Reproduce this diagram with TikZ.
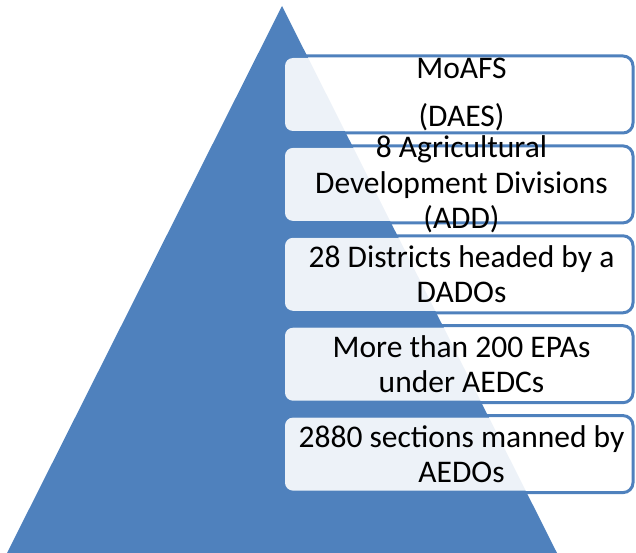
\documentclass[tikz,border=0pt]{standalone}
\usepackage{fontspec}
\setmainfont{Carlito}
\usepackage{xcolor}
\usepackage{tikz}
\usetikzlibrary{positioning}
\definecolor{piramide}{HTML}{4F81BD}

\begin{document}
\begin{tikzpicture}[
  x=1pt, y=-1pt,
  every node/.style={font=\fontsize{31.5}{35.5}\selectfont},
  nivel/.style={fill=white, fill opacity=0.9, rounded corners=8pt, minimum width=353pt, minimum height=73pt, inner sep=0pt},
  marco/.style={draw=piramide, line width=3pt, rounded corners=10pt, minimum width=352pt, minimum height=77pt, inner sep=0pt, xshift=-4.5pt},
  texto/.style={align=center, inner sep=0pt},
  node distance=16.5pt
]
\useasboundingbox (0,0) rectangle (636,553);

% piramide de fondo
\fill[piramide] (282,6) -- (557,553) -- (7,553) -- cycle;

% cajas de cada nivel
\node[nivel] (n1) at (461.5,94.5) {};
\node[nivel, below=of n1] (n2) {};
\node[nivel, below=of n2] (n3) {};
\node[nivel, below=of n3] (n4) {};
\node[nivel, below=of n4] (n5) {};

\node[marco] (m1) at (n1) {};
\node[marco] (m2) at (n2) {};
\node[marco] (m3) at (n3) {};
\node[marco] (m4) at (n4) {};
\node[marco] (m5) at (n5) {};

\node[texto] (t1) at (n1) {MoAFS\\[12.5pt](DAES)};
\node[texto] (t2) at (n2) {8 Agricultural\\Development Divisions\\(ADD)};
\node[texto] (t3) at (n3) {28 Districts headed by a\\DADOs};
\node[texto] (t4) at (n4) {More than 200 EPAs\\under AEDCs};
\node[texto] (t5) at (n5) {2880 sections manned by\\AEDOs};

\end{tikzpicture}
\end{document}
